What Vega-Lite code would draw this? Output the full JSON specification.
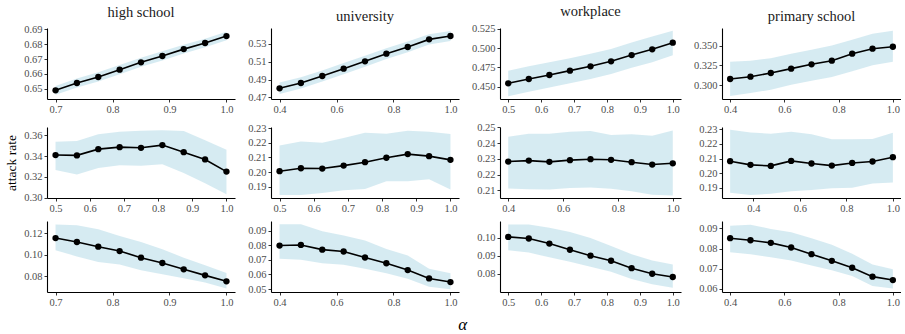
{
  "$schema": "https://vega.github.io/schema/vega-lite/v6.json",
  "padding": {"left": 4, "top": 4, "right": 0, "bottom": 4},
  "background": "white",
  "title": {"text": "α", "orient": "bottom", "anchor": "middle", "font": "Liberation Serif", "fontStyle": "italic", "fontSize": 17, "fontWeight": "normal", "color": "#000000", "offset": 9, "dx": 10},
  "columns": 4,
  "align": "each",
  "spacing": {"column": 12, "row": 7},
  "data": {"values": [
    {"p": "11", "a": 0.7, "y": 0.6491, "lo": 0.6462, "hi": 0.6520},
    {"p": "11", "a": 0.7375, "y": 0.6540, "lo": 0.6510, "hi": 0.6570},
    {"p": "11", "a": 0.775, "y": 0.6580, "lo": 0.6550, "hi": 0.6612},
    {"p": "11", "a": 0.8125, "y": 0.6629, "lo": 0.6598, "hi": 0.6660},
    {"p": "11", "a": 0.85, "y": 0.6678, "lo": 0.6648, "hi": 0.6708},
    {"p": "11", "a": 0.8875, "y": 0.6720, "lo": 0.6690, "hi": 0.6752},
    {"p": "11", "a": 0.925, "y": 0.6766, "lo": 0.6737, "hi": 0.6796},
    {"p": "11", "a": 0.9625, "y": 0.6807, "lo": 0.6778, "hi": 0.6836},
    {"p": "11", "a": 1.0, "y": 0.6853, "lo": 0.6825, "hi": 0.6882},

    {"p": "12", "a": 0.4, "y": 0.4801, "lo": 0.4736, "hi": 0.4866},
    {"p": "12", "a": 0.475, "y": 0.4861, "lo": 0.4798, "hi": 0.4925},
    {"p": "12", "a": 0.55, "y": 0.4940, "lo": 0.4878, "hi": 0.5002},
    {"p": "12", "a": 0.625, "y": 0.5022, "lo": 0.4960, "hi": 0.5085},
    {"p": "12", "a": 0.7, "y": 0.5105, "lo": 0.5043, "hi": 0.5168},
    {"p": "12", "a": 0.775, "y": 0.5191, "lo": 0.5130, "hi": 0.5252},
    {"p": "12", "a": 0.85, "y": 0.5266, "lo": 0.5206, "hi": 0.5328},
    {"p": "12", "a": 0.925, "y": 0.5352, "lo": 0.5294, "hi": 0.5410},
    {"p": "12", "a": 1.0, "y": 0.5390, "lo": 0.5335, "hi": 0.5445},

    {"p": "13", "a": 0.5, "y": 0.4543, "lo": 0.4375, "hi": 0.4707},
    {"p": "13", "a": 0.5625, "y": 0.4599, "lo": 0.4435, "hi": 0.4765},
    {"p": "13", "a": 0.625, "y": 0.4651, "lo": 0.4490, "hi": 0.4815},
    {"p": "13", "a": 0.6875, "y": 0.4707, "lo": 0.4545, "hi": 0.4868},
    {"p": "13", "a": 0.75, "y": 0.4763, "lo": 0.4600, "hi": 0.4925},
    {"p": "13", "a": 0.8125, "y": 0.4828, "lo": 0.4664, "hi": 0.4987},
    {"p": "13", "a": 0.875, "y": 0.4909, "lo": 0.4745, "hi": 0.5070},
    {"p": "13", "a": 0.9375, "y": 0.4983, "lo": 0.4815, "hi": 0.5150},
    {"p": "13", "a": 1.0, "y": 0.5069, "lo": 0.4905, "hi": 0.5225},

    {"p": "14", "a": 0.4, "y": 0.3076, "lo": 0.2860, "hi": 0.3297},
    {"p": "14", "a": 0.475, "y": 0.3106, "lo": 0.2898, "hi": 0.3310},
    {"p": "14", "a": 0.55, "y": 0.3153, "lo": 0.2940, "hi": 0.3339},
    {"p": "14", "a": 0.625, "y": 0.3208, "lo": 0.3004, "hi": 0.3398},
    {"p": "14", "a": 0.7, "y": 0.3263, "lo": 0.3055, "hi": 0.3449},
    {"p": "14", "a": 0.775, "y": 0.3309, "lo": 0.3102, "hi": 0.3504},
    {"p": "14", "a": 0.85, "y": 0.3398, "lo": 0.3174, "hi": 0.3576},
    {"p": "14", "a": 0.925, "y": 0.3462, "lo": 0.3250, "hi": 0.3653},
    {"p": "14", "a": 1.0, "y": 0.3487, "lo": 0.3297, "hi": 0.3691},

    {"p": "21", "a": 0.5, "y": 0.3410, "lo": 0.3267, "hi": 0.3539},
    {"p": "21", "a": 0.5625, "y": 0.3407, "lo": 0.3222, "hi": 0.3546},
    {"p": "21", "a": 0.625, "y": 0.3467, "lo": 0.3286, "hi": 0.3610},
    {"p": "21", "a": 0.6875, "y": 0.3486, "lo": 0.3312, "hi": 0.3635},
    {"p": "21", "a": 0.75, "y": 0.3480, "lo": 0.3308, "hi": 0.3645},
    {"p": "21", "a": 0.8125, "y": 0.3506, "lo": 0.3321, "hi": 0.3648},
    {"p": "21", "a": 0.875, "y": 0.3438, "lo": 0.3238, "hi": 0.3641},
    {"p": "21", "a": 0.9375, "y": 0.3368, "lo": 0.3139, "hi": 0.3552},
    {"p": "21", "a": 1.0, "y": 0.3251, "lo": 0.3032, "hi": 0.3460},

    {"p": "22", "a": 0.5, "y": 0.2007, "lo": 0.1846, "hi": 0.2182},
    {"p": "22", "a": 0.5625, "y": 0.2027, "lo": 0.1846, "hi": 0.2209},
    {"p": "22", "a": 0.625, "y": 0.2025, "lo": 0.1859, "hi": 0.2200},
    {"p": "22", "a": 0.6875, "y": 0.2045, "lo": 0.1877, "hi": 0.2232},
    {"p": "22", "a": 0.75, "y": 0.2068, "lo": 0.1886, "hi": 0.2268},
    {"p": "22", "a": 0.8125, "y": 0.2098, "lo": 0.1938, "hi": 0.2262},
    {"p": "22", "a": 0.875, "y": 0.2123, "lo": 0.1938, "hi": 0.2282},
    {"p": "22", "a": 0.9375, "y": 0.2109, "lo": 0.1952, "hi": 0.2275},
    {"p": "22", "a": 1.0, "y": 0.2084, "lo": 0.1882, "hi": 0.2259},

    {"p": "23", "a": 0.4, "y": 0.2283, "lo": 0.2113, "hi": 0.2440},
    {"p": "23", "a": 0.475, "y": 0.2289, "lo": 0.2108, "hi": 0.2459},
    {"p": "23", "a": 0.55, "y": 0.2281, "lo": 0.2106, "hi": 0.2459},
    {"p": "23", "a": 0.625, "y": 0.2292, "lo": 0.2115, "hi": 0.2472},
    {"p": "23", "a": 0.7, "y": 0.2298, "lo": 0.2119, "hi": 0.2477},
    {"p": "23", "a": 0.775, "y": 0.2294, "lo": 0.2111, "hi": 0.2452},
    {"p": "23", "a": 0.85, "y": 0.2279, "lo": 0.2094, "hi": 0.2456},
    {"p": "23", "a": 0.925, "y": 0.2264, "lo": 0.2073, "hi": 0.2447},
    {"p": "23", "a": 1.0, "y": 0.2272, "lo": 0.2068, "hi": 0.2480},

    {"p": "24", "a": 0.3, "y": 0.2082, "lo": 0.1868, "hi": 0.2295},
    {"p": "24", "a": 0.3875, "y": 0.2057, "lo": 0.1852, "hi": 0.2277},
    {"p": "24", "a": 0.475, "y": 0.2050, "lo": 0.1861, "hi": 0.2268},
    {"p": "24", "a": 0.5625, "y": 0.2084, "lo": 0.1877, "hi": 0.2282},
    {"p": "24", "a": 0.65, "y": 0.2066, "lo": 0.1886, "hi": 0.2264},
    {"p": "24", "a": 0.7375, "y": 0.2052, "lo": 0.1898, "hi": 0.2230},
    {"p": "24", "a": 0.825, "y": 0.2070, "lo": 0.1902, "hi": 0.2230},
    {"p": "24", "a": 0.9125, "y": 0.2080, "lo": 0.1930, "hi": 0.2232},
    {"p": "24", "a": 1.0, "y": 0.2109, "lo": 0.1937, "hi": 0.2275},

    {"p": "31", "a": 0.7, "y": 0.1156, "lo": 0.1041, "hi": 0.1284},
    {"p": "31", "a": 0.7375, "y": 0.1119, "lo": 0.0984, "hi": 0.1275},
    {"p": "31", "a": 0.775, "y": 0.1075, "lo": 0.0931, "hi": 0.1238},
    {"p": "31", "a": 0.8125, "y": 0.1034, "lo": 0.0909, "hi": 0.1175},
    {"p": "31", "a": 0.85, "y": 0.0972, "lo": 0.0853, "hi": 0.1119},
    {"p": "31", "a": 0.8875, "y": 0.0922, "lo": 0.0816, "hi": 0.1050},
    {"p": "31", "a": 0.925, "y": 0.0863, "lo": 0.0778, "hi": 0.0972},
    {"p": "31", "a": 0.9625, "y": 0.0806, "lo": 0.0738, "hi": 0.0900},
    {"p": "31", "a": 1.0, "y": 0.0750, "lo": 0.0684, "hi": 0.0828},

    {"p": "32", "a": 0.4, "y": 0.0798, "lo": 0.0707, "hi": 0.0943},
    {"p": "32", "a": 0.475, "y": 0.0802, "lo": 0.0700, "hi": 0.0943},
    {"p": "32", "a": 0.55, "y": 0.0770, "lo": 0.0677, "hi": 0.0895},
    {"p": "32", "a": 0.625, "y": 0.0757, "lo": 0.0666, "hi": 0.0866},
    {"p": "32", "a": 0.7, "y": 0.0716, "lo": 0.0639, "hi": 0.0832},
    {"p": "32", "a": 0.775, "y": 0.0677, "lo": 0.0609, "hi": 0.0775},
    {"p": "32", "a": 0.85, "y": 0.0630, "lo": 0.0570, "hi": 0.0730},
    {"p": "32", "a": 0.925, "y": 0.0573, "lo": 0.0516, "hi": 0.0639},
    {"p": "32", "a": 1.0, "y": 0.0548, "lo": 0.0498, "hi": 0.0609},

    {"p": "33", "a": 0.5, "y": 0.1004, "lo": 0.0930, "hi": 0.1073},
    {"p": "33", "a": 0.5625, "y": 0.0995, "lo": 0.0917, "hi": 0.1072},
    {"p": "33", "a": 0.625, "y": 0.0967, "lo": 0.0891, "hi": 0.1055},
    {"p": "33", "a": 0.6875, "y": 0.0933, "lo": 0.0866, "hi": 0.1031},
    {"p": "33", "a": 0.75, "y": 0.0900, "lo": 0.0839, "hi": 0.0998},
    {"p": "33", "a": 0.8125, "y": 0.0872, "lo": 0.0811, "hi": 0.0954},
    {"p": "33", "a": 0.875, "y": 0.0831, "lo": 0.0771, "hi": 0.0908},
    {"p": "33", "a": 0.9375, "y": 0.0800, "lo": 0.0742, "hi": 0.0873},
    {"p": "33", "a": 1.0, "y": 0.0782, "lo": 0.0723, "hi": 0.0851},

    {"p": "34", "a": 0.4, "y": 0.0851, "lo": 0.0782, "hi": 0.0913},
    {"p": "34", "a": 0.475, "y": 0.0841, "lo": 0.0772, "hi": 0.0918},
    {"p": "34", "a": 0.55, "y": 0.0828, "lo": 0.0757, "hi": 0.0897},
    {"p": "34", "a": 0.625, "y": 0.0805, "lo": 0.0741, "hi": 0.0880},
    {"p": "34", "a": 0.7, "y": 0.0772, "lo": 0.0716, "hi": 0.0851},
    {"p": "34", "a": 0.775, "y": 0.0739, "lo": 0.0693, "hi": 0.0818},
    {"p": "34", "a": 0.85, "y": 0.0705, "lo": 0.0664, "hi": 0.0774},
    {"p": "34", "a": 0.925, "y": 0.0661, "lo": 0.0615, "hi": 0.0721},
    {"p": "34", "a": 1.0, "y": 0.0644, "lo": 0.0602, "hi": 0.0697}
  ]},
  "concat": [
    {
      "title": {"text": "high school", "font": "Liberation Serif"},
      "width": 188, "height": 71,
      "transform": [{"filter": "datum.p == '11'"}],
      "encoding": {
        "x": {"field": "a", "type": "quantitative", "scale": {"domain": [0.685, 1.015], "nice": false, "zero": false}, "axis": {"values": [0.7, 0.8, 0.9, 1.0], "format": ".1f", "title": null}}
      },
      "layer": [
        {"mark": {"type": "area", "color": "#ADD8E6", "opacity": 0.5}, "encoding": {"y": {"field": "lo", "type": "quantitative", "scale": {"domain": [0.6433, 0.6907], "nice": false, "zero": false}, "axis": {"values": [0.65, 0.66, 0.67, 0.68, 0.69], "format": ".2f", "title": null}}, "y2": {"field": "hi"}}},
        {"mark": {"type": "line", "color": "#000000", "strokeWidth": 1.6}, "encoding": {"y": {"field": "y", "type": "quantitative", "axis": {"values": [0.65, 0.66, 0.67, 0.68, 0.69], "format": ".2f", "title": null}}}},
        {"mark": {"type": "point", "filled": true, "color": "#000000", "opacity": 1, "size": 40}, "encoding": {"y": {"field": "y", "type": "quantitative", "axis": {"values": [0.65, 0.66, 0.67, 0.68, 0.69], "format": ".2f", "title": null}}}}
      ]
    },
    {
      "title": {"text": "university", "font": "Liberation Serif"},
      "width": 188, "height": 71,
      "transform": [{"filter": "datum.p == '12'"}],
      "encoding": {
        "x": {"field": "a", "type": "quantitative", "scale": {"domain": [0.37, 1.03], "nice": false, "zero": false}, "axis": {"values": [0.4, 0.6, 0.8, 1.0], "format": ".1f", "title": null}}
      },
      "layer": [
        {"mark": {"type": "area", "color": "#ADD8E6", "opacity": 0.5}, "encoding": {"y": {"field": "lo", "type": "quantitative", "scale": {"domain": [0.4681, 0.548], "nice": false, "zero": false}, "axis": {"values": [0.47, 0.49, 0.51, 0.53], "format": ".2f", "title": null}}, "y2": {"field": "hi"}}},
        {"mark": {"type": "line", "color": "#000000", "strokeWidth": 1.6}, "encoding": {"y": {"field": "y", "type": "quantitative", "axis": {"values": [0.47, 0.49, 0.51, 0.53], "format": ".2f", "title": null}}}},
        {"mark": {"type": "point", "filled": true, "color": "#000000", "opacity": 1, "size": 40}, "encoding": {"y": {"field": "y", "type": "quantitative", "axis": {"values": [0.47, 0.49, 0.51, 0.53], "format": ".2f", "title": null}}}}
      ]
    },
    {
      "title": {"text": "workplace", "font": "Liberation Serif"},
      "width": 181, "height": 71,
      "transform": [{"filter": "datum.p == '13'"}],
      "encoding": {
        "x": {"field": "a", "type": "quantitative", "scale": {"domain": [0.475, 1.025], "nice": false, "zero": false}, "axis": {"values": [0.5, 0.6, 0.7, 0.8, 0.9, 1.0], "format": ".1f", "title": null}}
      },
      "layer": [
        {"mark": {"type": "area", "color": "#ADD8E6", "opacity": 0.5}, "encoding": {"y": {"field": "lo", "type": "quantitative", "scale": {"domain": [0.434, 0.5259], "nice": false, "zero": false}, "axis": {"values": [0.45, 0.475, 0.5, 0.525], "format": ".3f", "title": null}}, "y2": {"field": "hi"}}},
        {"mark": {"type": "line", "color": "#000000", "strokeWidth": 1.6}, "encoding": {"y": {"field": "y", "type": "quantitative", "axis": {"values": [0.45, 0.475, 0.5, 0.525], "format": ".3f", "title": null}}}},
        {"mark": {"type": "point", "filled": true, "color": "#000000", "opacity": 1, "size": 40}, "encoding": {"y": {"field": "y", "type": "quantitative", "axis": {"values": [0.45, 0.475, 0.5, 0.525], "format": ".3f", "title": null}}}}
      ]
    },
    {
      "title": {"text": "primary school", "font": "Liberation Serif"},
      "width": 179, "height": 71,
      "transform": [{"filter": "datum.p == '14'"}],
      "encoding": {
        "x": {"field": "a", "type": "quantitative", "scale": {"domain": [0.37, 1.03], "nice": false, "zero": false}, "axis": {"values": [0.4, 0.6, 0.8, 1.0], "format": ".1f", "title": null}}
      },
      "layer": [
        {"mark": {"type": "area", "color": "#ADD8E6", "opacity": 0.5}, "encoding": {"y": {"field": "lo", "type": "quantitative", "scale": {"domain": [0.2822, 0.3725], "nice": false, "zero": false}, "axis": {"values": [0.3, 0.325, 0.35], "format": ".3f", "title": null}}, "y2": {"field": "hi"}}},
        {"mark": {"type": "line", "color": "#000000", "strokeWidth": 1.6}, "encoding": {"y": {"field": "y", "type": "quantitative", "axis": {"values": [0.3, 0.325, 0.35], "format": ".3f", "title": null}}}},
        {"mark": {"type": "point", "filled": true, "color": "#000000", "opacity": 1, "size": 40}, "encoding": {"y": {"field": "y", "type": "quantitative", "axis": {"values": [0.3, 0.325, 0.35], "format": ".3f", "title": null}}}}
      ]
    },
    {
      "width": 188, "height": 71,
      "transform": [{"filter": "datum.p == '21'"}],
      "encoding": {
        "x": {"field": "a", "type": "quantitative", "scale": {"domain": [0.475, 1.025], "nice": false, "zero": false}, "axis": {"values": [0.5, 0.6, 0.7, 0.8, 0.9, 1.0], "format": ".1f", "title": null}}
      },
      "layer": [
        {"mark": {"type": "area", "color": "#ADD8E6", "opacity": 0.5}, "encoding": {"y": {"field": "lo", "type": "quantitative", "scale": {"domain": [0.2997, 0.368], "nice": false, "zero": false}, "axis": {"values": [0.3, 0.32, 0.34, 0.36], "format": ".2f", "title": "attack rate", "titlePadding": 5}}, "y2": {"field": "hi"}}},
        {"mark": {"type": "line", "color": "#000000", "strokeWidth": 1.6}, "encoding": {"y": {"field": "y", "type": "quantitative", "axis": {"values": [0.3, 0.32, 0.34, 0.36], "format": ".2f", "title": "attack rate", "titlePadding": 5}}}},
        {"mark": {"type": "point", "filled": true, "color": "#000000", "opacity": 1, "size": 40}, "encoding": {"y": {"field": "y", "type": "quantitative", "axis": {"values": [0.3, 0.32, 0.34, 0.36], "format": ".2f", "title": "attack rate", "titlePadding": 5}}}}
      ]
    },
    {
      "width": 188, "height": 71,
      "transform": [{"filter": "datum.p == '22'"}],
      "encoding": {
        "x": {"field": "a", "type": "quantitative", "scale": {"domain": [0.475, 1.025], "nice": false, "zero": false}, "axis": {"values": [0.5, 0.6, 0.7, 0.8, 0.9, 1.0], "format": ".1f", "title": null}}
      },
      "layer": [
        {"mark": {"type": "area", "color": "#ADD8E6", "opacity": 0.5}, "encoding": {"y": {"field": "lo", "type": "quantitative", "scale": {"domain": [0.1825, 0.2307], "nice": false, "zero": false}, "axis": {"values": [0.19, 0.2, 0.21, 0.22, 0.23], "format": ".2f", "title": null}}, "y2": {"field": "hi"}}},
        {"mark": {"type": "line", "color": "#000000", "strokeWidth": 1.6}, "encoding": {"y": {"field": "y", "type": "quantitative", "axis": {"values": [0.19, 0.2, 0.21, 0.22, 0.23], "format": ".2f", "title": null}}}},
        {"mark": {"type": "point", "filled": true, "color": "#000000", "opacity": 1, "size": 40}, "encoding": {"y": {"field": "y", "type": "quantitative", "axis": {"values": [0.19, 0.2, 0.21, 0.22, 0.23], "format": ".2f", "title": null}}}}
      ]
    },
    {
      "width": 181, "height": 71,
      "transform": [{"filter": "datum.p == '23'"}],
      "encoding": {
        "x": {"field": "a", "type": "quantitative", "scale": {"domain": [0.37, 1.03], "nice": false, "zero": false}, "axis": {"values": [0.4, 0.6, 0.8, 1.0], "format": ".1f", "title": null}}
      },
      "layer": [
        {"mark": {"type": "area", "color": "#ADD8E6", "opacity": 0.5}, "encoding": {"y": {"field": "lo", "type": "quantitative", "scale": {"domain": [0.2052, 0.2502], "nice": false, "zero": false}, "axis": {"values": [0.21, 0.22, 0.23, 0.24, 0.25], "format": ".2f", "title": null}}, "y2": {"field": "hi"}}},
        {"mark": {"type": "line", "color": "#000000", "strokeWidth": 1.6}, "encoding": {"y": {"field": "y", "type": "quantitative", "axis": {"values": [0.21, 0.22, 0.23, 0.24, 0.25], "format": ".2f", "title": null}}}},
        {"mark": {"type": "point", "filled": true, "color": "#000000", "opacity": 1, "size": 40}, "encoding": {"y": {"field": "y", "type": "quantitative", "axis": {"values": [0.21, 0.22, 0.23, 0.24, 0.25], "format": ".2f", "title": null}}}}
      ]
    },
    {
      "width": 179, "height": 71,
      "transform": [{"filter": "datum.p == '24'"}],
      "encoding": {
        "x": {"field": "a", "type": "quantitative", "scale": {"domain": [0.265, 1.035], "nice": false, "zero": false}, "axis": {"values": [0.4, 0.6, 0.8, 1.0], "format": ".1f", "title": null}}
      },
      "layer": [
        {"mark": {"type": "area", "color": "#ADD8E6", "opacity": 0.5}, "encoding": {"y": {"field": "lo", "type": "quantitative", "scale": {"domain": [0.1832, 0.2314], "nice": false, "zero": false}, "axis": {"values": [0.19, 0.2, 0.21, 0.22, 0.23], "format": ".2f", "title": null}}, "y2": {"field": "hi"}}},
        {"mark": {"type": "line", "color": "#000000", "strokeWidth": 1.6}, "encoding": {"y": {"field": "y", "type": "quantitative", "axis": {"values": [0.19, 0.2, 0.21, 0.22, 0.23], "format": ".2f", "title": null}}}},
        {"mark": {"type": "point", "filled": true, "color": "#000000", "opacity": 1, "size": 40}, "encoding": {"y": {"field": "y", "type": "quantitative", "axis": {"values": [0.19, 0.2, 0.21, 0.22, 0.23], "format": ".2f", "title": null}}}}
      ]
    },
    {
      "width": 188, "height": 71,
      "transform": [{"filter": "datum.p == '31'"}],
      "encoding": {
        "x": {"field": "a", "type": "quantitative", "scale": {"domain": [0.685, 1.015], "nice": false, "zero": false}, "axis": {"values": [0.7, 0.8, 0.9, 1.0], "format": ".1f", "title": null}}
      },
      "layer": [
        {"mark": {"type": "area", "color": "#ADD8E6", "opacity": 0.5}, "encoding": {"y": {"field": "lo", "type": "quantitative", "scale": {"domain": [0.065, 0.1316], "nice": false, "zero": false}, "axis": {"values": [0.08, 0.1, 0.12], "format": ".2f", "title": null}}, "y2": {"field": "hi"}}},
        {"mark": {"type": "line", "color": "#000000", "strokeWidth": 1.6}, "encoding": {"y": {"field": "y", "type": "quantitative", "axis": {"values": [0.08, 0.1, 0.12], "format": ".2f", "title": null}}}},
        {"mark": {"type": "point", "filled": true, "color": "#000000", "opacity": 1, "size": 40}, "encoding": {"y": {"field": "y", "type": "quantitative", "axis": {"values": [0.08, 0.1, 0.12], "format": ".2f", "title": null}}}}
      ]
    },
    {
      "width": 188, "height": 71,
      "transform": [{"filter": "datum.p == '32'"}],
      "encoding": {
        "x": {"field": "a", "type": "quantitative", "scale": {"domain": [0.37, 1.03], "nice": false, "zero": false}, "axis": {"values": [0.4, 0.6, 0.8, 1.0], "format": ".1f", "title": null}}
      },
      "layer": [
        {"mark": {"type": "area", "color": "#ADD8E6", "opacity": 0.5}, "encoding": {"y": {"field": "lo", "type": "quantitative", "scale": {"domain": [0.048, 0.0966], "nice": false, "zero": false}, "axis": {"values": [0.05, 0.06, 0.07, 0.08, 0.09], "format": ".2f", "title": null}}, "y2": {"field": "hi"}}},
        {"mark": {"type": "line", "color": "#000000", "strokeWidth": 1.6}, "encoding": {"y": {"field": "y", "type": "quantitative", "axis": {"values": [0.05, 0.06, 0.07, 0.08, 0.09], "format": ".2f", "title": null}}}},
        {"mark": {"type": "point", "filled": true, "color": "#000000", "opacity": 1, "size": 40}, "encoding": {"y": {"field": "y", "type": "quantitative", "axis": {"values": [0.05, 0.06, 0.07, 0.08, 0.09], "format": ".2f", "title": null}}}}
      ]
    },
    {
      "width": 181, "height": 71,
      "transform": [{"filter": "datum.p == '33'"}],
      "encoding": {
        "x": {"field": "a", "type": "quantitative", "scale": {"domain": [0.475, 1.025], "nice": false, "zero": false}, "axis": {"values": [0.5, 0.6, 0.7, 0.8, 0.9, 1.0], "format": ".1f", "title": null}}
      },
      "layer": [
        {"mark": {"type": "area", "color": "#ADD8E6", "opacity": 0.5}, "encoding": {"y": {"field": "lo", "type": "quantitative", "scale": {"domain": [0.0699, 0.1092], "nice": false, "zero": false}, "axis": {"values": [0.08, 0.09, 0.1], "format": ".2f", "title": null}}, "y2": {"field": "hi"}}},
        {"mark": {"type": "line", "color": "#000000", "strokeWidth": 1.6}, "encoding": {"y": {"field": "y", "type": "quantitative", "axis": {"values": [0.08, 0.09, 0.1], "format": ".2f", "title": null}}}},
        {"mark": {"type": "point", "filled": true, "color": "#000000", "opacity": 1, "size": 40}, "encoding": {"y": {"field": "y", "type": "quantitative", "axis": {"values": [0.08, 0.09, 0.1], "format": ".2f", "title": null}}}}
      ]
    },
    {
      "width": 179, "height": 71,
      "transform": [{"filter": "datum.p == '34'"}],
      "encoding": {
        "x": {"field": "a", "type": "quantitative", "scale": {"domain": [0.37, 1.03], "nice": false, "zero": false}, "axis": {"values": [0.4, 0.6, 0.8, 1.0], "format": ".1f", "title": null}}
      },
      "layer": [
        {"mark": {"type": "area", "color": "#ADD8E6", "opacity": 0.5}, "encoding": {"y": {"field": "lo", "type": "quantitative", "scale": {"domain": [0.0585, 0.0936], "nice": false, "zero": false}, "axis": {"values": [0.06, 0.07, 0.08, 0.09], "format": ".2f", "title": null}}, "y2": {"field": "hi"}}},
        {"mark": {"type": "line", "color": "#000000", "strokeWidth": 1.6}, "encoding": {"y": {"field": "y", "type": "quantitative", "axis": {"values": [0.06, 0.07, 0.08, 0.09], "format": ".2f", "title": null}}}},
        {"mark": {"type": "point", "filled": true, "color": "#000000", "opacity": 1, "size": 40}, "encoding": {"y": {"field": "y", "type": "quantitative", "axis": {"values": [0.06, 0.07, 0.08, 0.09], "format": ".2f", "title": null}}}}
      ]
    }
  ],
  "config": {
    "view": {"stroke": null},
    "font": "Liberation Serif",
    "axis": {
      "grid": false,
      "domainColor": "#000000",
      "domainWidth": 1.1,
      "tickColor": "#333333",
      "tickSize": 3,
      "tickWidth": 1,
      "labelColor": "#4d4d4d",
      "labelFont": "Liberation Serif",
      "labelFontSize": 10.5,
      "labelPadding": 2,
      "labelFlush": false,
      "labelOverlap": false,
      "titleFont": "Liberation Serif",
      "titleFontSize": 13.5,
      "titleFontWeight": "normal",
      "titleColor": "#000000"
    },
    "title": {"font": "Liberation Serif", "fontSize": 14.5, "fontWeight": "normal", "color": "#1a1a1a", "offset": 4}
  }
}
